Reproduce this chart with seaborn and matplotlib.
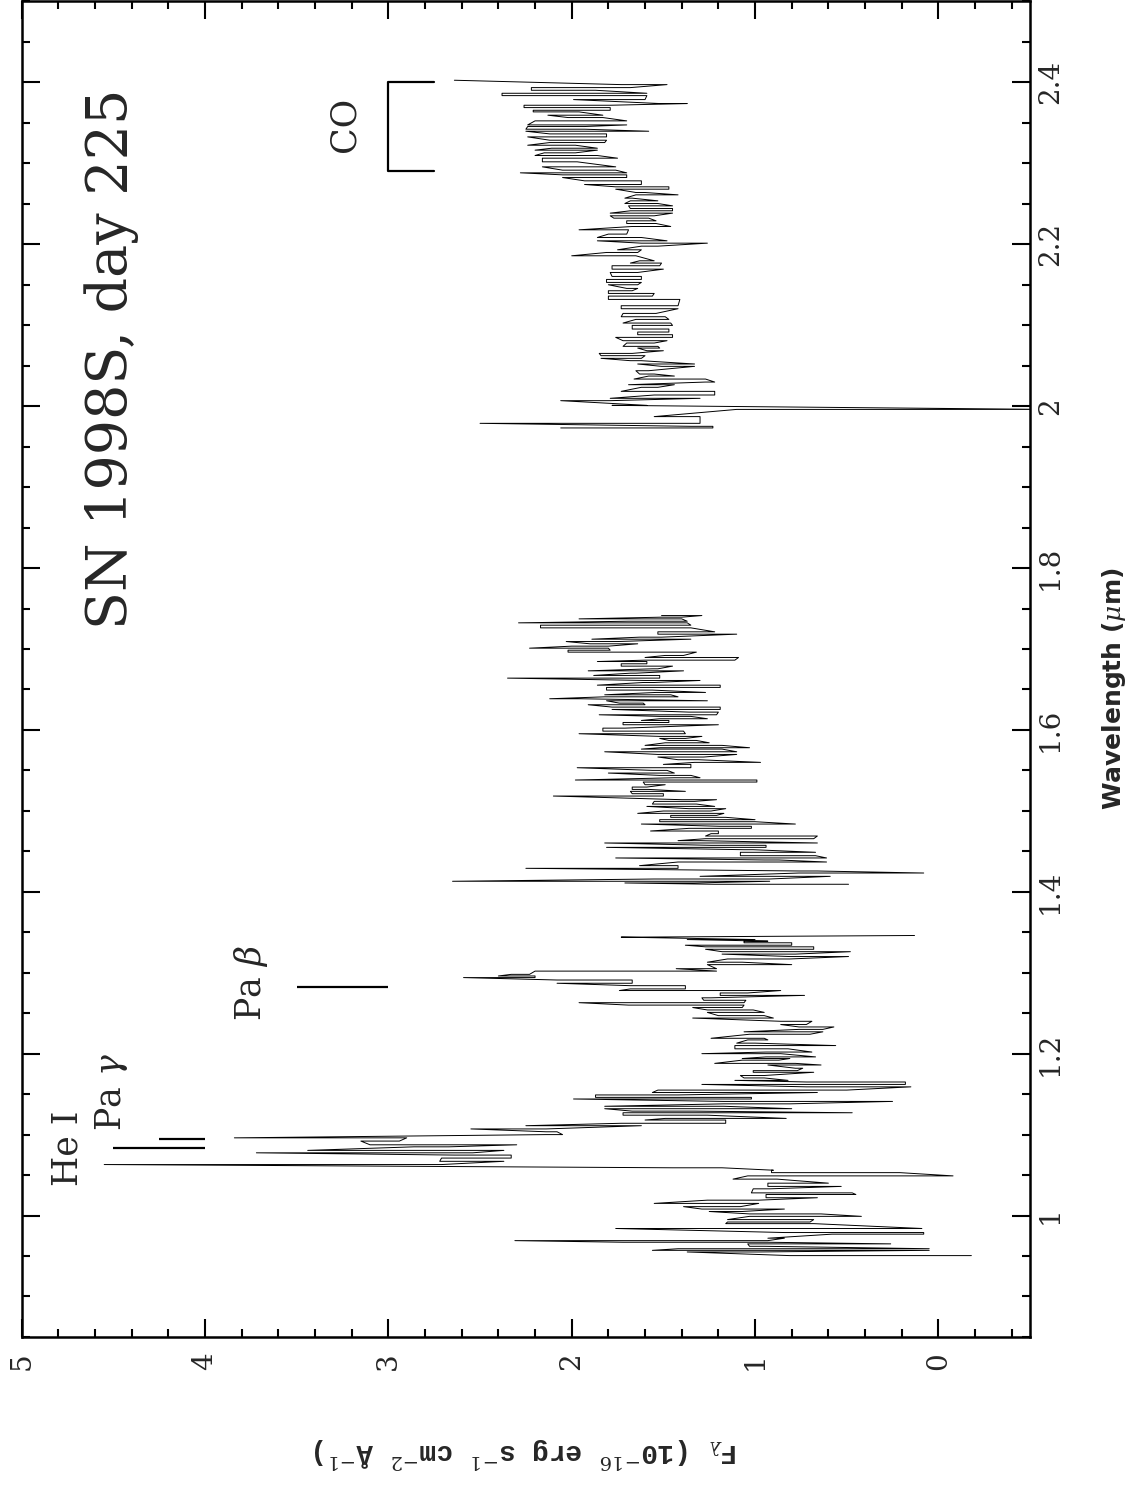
import numpy as np
import pandas as pd
import matplotlib
matplotlib.use("Agg")
import matplotlib.pyplot as plt
import seaborn as sns
from matplotlib.ticker import MultipleLocator, FuncFormatter

# ---------------- data ----------------
# Each row: wavelength (micron) and the two flux extremes of the zig-zag, in drawing order
wave1 = [0.9505, 0.955, 0.957, 0.959, 0.962, 0.965, 0.967, 0.969, 0.972, 0.977,
         0.979, 0.984, 0.990, 0.992, 0.995, 0.999, 1.002, 1.005, 1.008, 1.011,
         1.015, 1.019, 1.022, 1.026, 1.028, 1.033, 1.036, 1.040, 1.045, 1.049,
         1.053, 1.056, 1.059, 1.063, 1.067, 1.071, 1.0747, 1.0775, 1.0805, 1.0849,
         1.0874, 1.092, 1.096, 1.100, 1.1035, 1.107, 1.111, 1.114, 1.118, 1.120,
         1.124, 1.127, 1.129, 1.132, 1.135, 1.138, 1.141, 1.144, 1.146, 1.149,
         1.152, 1.155, 1.159, 1.162, 1.165, 1.167, 1.170, 1.173, 1.177, 1.179,
         1.182, 1.186, 1.188, 1.192, 1.194, 1.196, 1.200, 1.202, 1.206, 1.210,
         1.213, 1.217, 1.219, 1.224, 1.227, 1.230, 1.233, 1.236, 1.240, 1.244,
         1.247, 1.251, 1.254, 1.257, 1.260, 1.263, 1.266, 1.269, 1.272, 1.275,
         1.278, 1.280, 1.284, 1.287, 1.291, 1.294, 1.296, 1.298, 1.302, 1.305,
         1.310, 1.313, 1.317, 1.320, 1.323, 1.326, 1.329, 1.332, 1.334, 1.337,
         1.339, 1.341, 1.344, 1.346]
flux1_a = [-0.18, 1.37, 0.05, 1.42, 0.95, 1.04, 0.93, 2.31, 0.84, 0.58,
           0.08, 1.76, 0.68, 1.15, 0.68, 1.03, 0.64, 1.25, 0.84, 1.39,
           0.98, 1.26, 0.66, 0.94, 0.47, 1.01, 0.53, 0.93, 0.88, 1.04,
           0.21, 0.91, 1.18, 4.55, 2.37, 2.71, 2.33, 3.72, 2.37, 2.86,
           2.30, 3.15, 2.90, 2.14, 2.08, 2.55, 1.62, 1.73, 1.16, 1.49,
           1.26, 1.72, 1.33, 1.82, 1.17, 1.17, 0.25, 1.99, 1.02, 1.87,
           0.66, 1.53, 0.15, 1.29, 0.18, 1.11, 0.95, 1.08, 0.68, 1.01,
           0.74, 0.93, 0.78, 1.07, 0.81, 0.94, 0.86, 0.94, 0.82, 1.11,
           1.00, 1.04, 0.95, 1.03, 0.63, 0.76, 0.57, 0.86, 0.69, 1.34,
           0.95, 1.26, 1.01, 1.34, 1.06, 1.96, 1.05, 1.29, 0.73, 1.19,
           0.86, 1.68, 1.38, 2.08, 1.67, 2.59, 2.20, 2.33, 2.20, 1.43,
           1.26, 1.07, 1.15, 0.49, 1.18, 0.48, 1.27, 0.68, 1.38, 0.80,
           1.06, 1.37, 1.73, 0.13]
flux1_b = [0.81, 0.98, 1.56, 0.05, 1.03, 0.26, 1.72, 0.93, 0.93, 0.08,
           0.84, 0.09, 1.16, 0.70, 1.15, 0.42, 1.03, 1.07, 1.29, 1.08,
           1.55, 0.98, 0.94, 0.45, 1.02, 0.92, 0.93, 0.60, 1.12, -0.08,
           0.91, 0.90, 1.45, 2.71, 2.72, 2.33, 2.64, 2.54, 3.44, 2.67,
           3.10, 2.94, 3.84, 2.05, 2.14, 2.14, 2.25, 1.16, 1.60, 0.83,
           1.72, 0.47, 1.67, 0.80, 1.82, 0.81, 1.17, 1.02, 1.87, 1.42,
           1.56, 0.50, 0.72, 0.18, 0.72, 0.82, 1.06, 0.95, 1.01, 0.77,
           0.78, 0.64, 1.22, 0.87, 1.07, 0.67, 1.29, 0.69, 1.11, 0.56,
           1.10, 0.93, 1.24, 0.70, 1.06, 0.63, 0.76, 0.72, 0.86, 0.90,
           1.20, 0.95, 1.26, 1.07, 1.69, 1.06, 1.28, 1.24, 1.19, 1.04,
           1.74, 1.38, 1.68, 1.67, 2.08, 2.20, 2.40, 2.23, 1.21, 1.21,
           0.80, 1.26, 0.81, 0.81, 0.78, 1.18, 0.68, 1.27, 0.80, 1.06,
           0.93, 1.00, 1.65, 0.13]

wave2 = [1.4093, 1.4109, 1.4130, 1.4158, 1.4191, 1.4232, 1.4257, 1.4290, 1.4323, 1.4368,
         1.4393, 1.4418, 1.4446, 1.4488, 1.4520, 1.4549, 1.4574, 1.4603, 1.4632, 1.4656,
         1.4689, 1.4718, 1.4751, 1.4784, 1.4809, 1.4837, 1.4866, 1.4891, 1.4920, 1.4944,
         1.4969, 1.4998, 1.5027, 1.5055, 1.5084, 1.5117, 1.5138, 1.5183, 1.5212, 1.5241,
         1.5265, 1.5294, 1.5323, 1.5356, 1.5381, 1.5409, 1.5438, 1.5467, 1.5500, 1.5533,
         1.5574, 1.5599, 1.5632, 1.5665, 1.5697, 1.5730, 1.5763, 1.5780, 1.5809, 1.5841,
         1.5870, 1.5895, 1.5920, 1.5953, 1.5985, 1.6022, 1.6064, 1.6092, 1.6117, 1.6138,
         1.6167, 1.6187, 1.6220, 1.6253, 1.6282, 1.6311, 1.6331, 1.6360, 1.6385, 1.6409,
         1.6434, 1.6463, 1.6492, 1.6525, 1.6553, 1.6586, 1.6611, 1.6640, 1.6673, 1.6701,
         1.6730, 1.6755, 1.6788, 1.6817, 1.6845, 1.6862, 1.6895, 1.6920, 1.6961, 1.6985,
         1.7010, 1.7035, 1.7064, 1.7092, 1.7121, 1.7146, 1.7183, 1.7212, 1.7261, 1.7294,
         1.7323, 1.7343, 1.7372, 1.7393, 1.7413]
flux2_a = [0.49, 1.71, 0.92, 1.55, 0.59, 0.76, 0.66, 2.25, 1.42, 1.42,
           0.87, 1.76, 0.67, 1.08, 1.01, 1.81, 0.94, 1.82, 1.30, 1.27,
           0.66, 1.24, 1.20, 1.36, 1.02, 1.62, 1.00, 1.52, 1.16, 1.46,
           1.17, 1.50, 1.16, 1.59, 1.32, 1.55, 1.21, 2.10, 1.50, 1.68,
           1.58, 1.67, 1.49, 1.61, 0.99, 1.44, 1.35, 1.80, 1.48, 1.97,
           1.35, 1.33, 1.31, 1.53, 1.10, 1.82, 1.18, 1.52, 1.18, 1.49,
           1.32, 1.52, 1.29, 1.96, 1.39, 1.83, 1.20, 1.72, 1.47, 1.52,
           1.35, 1.85, 1.20, 1.78, 1.19, 1.91, 1.61, 1.81, 1.95, 1.82,
           1.46, 1.54, 1.56, 1.81, 1.19, 1.61, 1.30, 2.35, 1.52, 1.68,
           1.39, 1.56, 1.45, 1.73, 1.59, 1.60, 1.09, 1.49, 1.32, 2.02,
           1.80, 2.00, 1.64, 2.03, 1.35, 1.63, 1.10, 1.53, 1.35, 2.17,
           1.37, 1.69, 1.40, 1.51, 1.29]
flux2_b = [1.22, 1.33, 2.65, 0.92, 1.30, 0.08, 0.76, 1.42, 1.63, 0.61,
           0.95, 0.61, 1.08, 0.67, 1.06, 0.94, 1.24, 0.66, 1.42, 0.68,
           1.27, 1.20, 1.57, 1.02, 1.19, 0.78, 1.52, 1.00, 1.46, 1.21,
           1.64, 1.24, 1.36, 1.22, 1.56, 1.33, 1.40, 1.50, 1.67, 1.38,
           1.67, 1.59, 1.60, 0.99, 1.98, 1.30, 1.52, 1.44, 1.56, 1.35,
           1.50, 0.97, 1.42, 1.28, 1.53, 1.10, 1.62, 1.03, 1.60, 1.25,
           1.47, 1.38, 1.52, 1.38, 1.83, 1.71, 1.72, 1.47, 1.62, 1.26,
           1.52, 1.21, 1.36, 1.19, 1.78, 1.60, 1.74, 1.26, 2.12, 1.42,
           1.82, 1.27, 1.81, 1.19, 1.86, 1.55, 1.60, 1.52, 1.88, 1.65,
           1.91, 1.53, 1.73, 1.59, 1.86, 1.11, 1.60, 1.39, 2.02, 1.79,
           2.23, 1.80, 1.90, 1.75, 1.89, 1.51, 1.53, 1.22, 2.17, 1.35,
           2.29, 1.37, 1.96, 1.40, 1.51]

wave3 = [1.9731, 1.9751, 1.9788, 1.9871, 1.9960, 2.0010, 2.0068, 2.0097, 2.0138, 2.0183,
         2.0233, 2.0265, 2.0298, 2.0335, 2.0372, 2.0397, 2.0438, 2.0492, 2.0521, 2.0562,
         2.0591, 2.0624, 2.0652, 2.0685, 2.0718, 2.0739, 2.0780, 2.0809, 2.0850, 2.0883,
         2.0916, 2.0953, 2.0998, 2.1027, 2.1072, 2.1105, 2.1146, 2.1204, 2.1241, 2.1319,
         2.1360, 2.1393, 2.1426, 2.1455, 2.1500, 2.1529, 2.1566, 2.1603, 2.1652, 2.1693,
         2.1735, 2.1768, 2.1796, 2.1858, 2.1899, 2.1932, 2.1977, 2.2014, 2.2043, 2.2084,
         2.2126, 2.2179, 2.2220, 2.2257, 2.2290, 2.2323, 2.2352, 2.2385, 2.2414, 2.2442,
         2.2475, 2.2504, 2.2537, 2.2570, 2.2611, 2.2640, 2.2681, 2.2710, 2.2739, 2.2784,
         2.2825, 2.2858, 2.2883, 2.2916, 2.2957, 2.3019, 2.3064, 2.3097, 2.3130, 2.3163,
         2.3187, 2.3224, 2.3257, 2.3286, 2.3327, 2.3364, 2.3397, 2.3422, 2.3455, 2.3475,
         2.3525, 2.3566, 2.3595, 2.3636, 2.3656, 2.3689, 2.3718, 2.3739, 2.3788, 2.3837,
         2.3866, 2.3903, 2.3936, 2.3973, 2.4027]
flux3_a = [2.06, 1.23, 2.50, 1.30, 1.10, 1.78, 2.06, 1.30, 1.55, 1.22,
           1.62, 1.44, 1.27, 1.27, 1.58, 1.55, 1.65, 1.33, 1.64, 1.62,
           1.84, 1.60, 1.85, 1.50, 1.64, 1.53, 1.70, 1.48, 1.76, 1.45,
           1.64, 1.47, 1.67, 1.46, 1.65, 1.49, 1.72, 1.42, 1.73, 1.41,
           1.80, 1.55, 1.80, 1.64, 1.80, 1.62, 1.81, 1.62, 1.79, 1.50,
           1.78, 1.51, 1.63, 1.65, 1.81, 1.62, 1.62, 1.26, 1.86, 1.62,
           1.80, 1.69, 1.67, 1.54, 1.70, 1.58, 1.79, 1.45, 1.68, 1.45,
           1.69, 1.53, 1.68, 1.67, 1.65, 1.60, 1.76, 1.47, 1.93, 1.62,
           2.05, 1.70, 2.28, 1.76, 2.16, 1.97, 2.16, 1.86, 2.15, 1.86,
           2.11, 1.98, 2.12, 1.81, 2.24, 1.81, 2.25, 1.93, 2.24, 1.70,
           2.20, 1.83, 2.13, 1.96, 2.21, 1.79, 2.26, 1.37, 1.99, 1.59,
           2.38, 1.87, 2.22, 1.48, 2.64]
flux3_b = [1.23, 1.35, 1.30, 1.55, -0.60, 1.59, 1.79, 1.79, 1.22, 1.73,
           1.53, 1.69, 1.22, 1.66, 1.44, 1.63, 1.58, 1.51, 1.33, 1.68,
           1.62, 1.84, 1.67, 1.59, 1.52, 1.72, 1.55, 1.72, 1.45, 1.64,
           1.47, 1.67, 1.45, 1.72, 1.47, 1.73, 1.54, 1.73, 1.42, 1.80,
           1.56, 1.80, 1.67, 1.70, 1.64, 1.81, 1.62, 1.78, 1.64, 1.78,
           1.52, 1.68, 1.55, 2.00, 1.64, 1.75, 1.53, 1.62, 1.48, 1.86,
           1.70, 1.96, 1.46, 1.70, 1.54, 1.77, 1.55, 1.79, 1.45, 1.68,
           1.45, 1.71, 1.53, 1.71, 1.42, 1.65, 1.47, 1.76, 1.62, 1.93,
           1.70, 2.05, 1.70, 2.05, 1.76, 2.16, 1.75, 2.20, 1.98, 2.20,
           1.86, 2.24, 1.82, 2.12, 1.81, 2.12, 1.58, 2.25, 1.93, 2.24,
           1.70, 2.02, 1.83, 2.21, 1.79, 2.26, 1.79, 1.52, 1.60, 2.38,
           1.59, 2.22, 1.68, 1.73, 2.64]

# line identification marks
line_waves = [1.083, 1.094, 1.282]
line_flux_lo = [4.0, 4.0, 3.0]
line_flux_hi = [4.5, 4.25, 3.5]
co_waves = [2.29, 2.40]
co_flux = [3.0, 2.75]

title_text = "SN 1998S, day 225"
xlabel_text = r"F$_\lambda$ (10$^{-16}$ erg s$^{-1}$ cm$^{-2}$ Å$^{-1}$)"
ylabel_text = r"Wavelength ($\mu$m)"

# ---------------- build long table ----------------
rows = []
for seg, (w, fa, fb) in enumerate([(wave1, flux1_a, flux1_b),
                                   (wave2, flux2_a, flux2_b),
                                   (wave3, flux3_a, flux3_b)]):
    for wi, a, b in zip(w, fa, fb):
        rows.append((seg, wi, a))
        rows.append((seg, wi, b))
df = pd.DataFrame(rows, columns=["seg", "wave", "flux"])

# ---------------- style ----------------
sns.set_theme(style="ticks")
plt.rcParams.update({
    "font.family": ["DejaVu Serif"],
    "mathtext.fontset": "dejavuserif",
    "axes.linewidth": 1.8,
    "axes.edgecolor": "black",
})

fig = plt.figure(figsize=(11.28, 14.85), dpi=100)
ax = fig.add_axes([0.01924, 0.0997, 0.89392, 0.8993])

sns.lineplot(data=df, x="flux", y="wave", units="seg", estimator=None,
             sort=False, orient="y", color="black", linewidth=0.7,
             ax=ax, legend=False)

# identification marks
for w, lo, hi in zip(line_waves, line_flux_lo, line_flux_hi):
    ax.plot([lo, hi], [w, w], color="black", lw=1.6, solid_capstyle="butt")
ax.plot([co_flux[1], co_flux[0], co_flux[0], co_flux[1]],
        [co_waves[1], co_waves[1], co_waves[0], co_waves[0]],
        color="black", lw=1.6)

# texts (rotated like the landscape page)
ax.text(4.51, 2.059, title_text, rotation=90, ha="center", va="center",
        fontsize=40, family="DejaVu Serif")
ax.text(4.75, 1.083, "He I", rotation=90, ha="center", va="center", fontsize=25)
ax.text(4.51, 1.152, "Pa $\\gamma$", rotation=90, ha="center", va="center", fontsize=25)
ax.text(3.75, 1.287, "Pa $\\beta$", rotation=90, ha="center", va="center", fontsize=25)
ax.text(3.24, 2.348, "CO", rotation=90, ha="center", va="center", fontsize=25)

# axes
ax.set_xlim(5, -0.5)
ax.set_ylim(0.85, 2.5)
ax.xaxis.set_major_locator(MultipleLocator(1))
ax.xaxis.set_minor_locator(MultipleLocator(0.2))
ax.yaxis.set_major_locator(MultipleLocator(0.2))
ax.yaxis.set_minor_locator(MultipleLocator(0.05))
fmt = FuncFormatter(lambda v, p: f"{round(v, 3):g}")
ax.xaxis.set_major_formatter(fmt)
ax.yaxis.set_major_formatter(fmt)

ax.tick_params(axis="both", which="both", direction="in", color="black", width=1.5)
ax.tick_params(axis="both", which="major", length=13)
ax.tick_params(axis="both", which="minor", length=6)
ax.tick_params(axis="x", which="both", bottom=True, top=True,
               labelbottom=True, labeltop=False)
ax.tick_params(axis="y", which="both", left=True, right=True,
               labelleft=False, labelright=True)
ax.tick_params(axis="x", which="major", labelrotation=90, pad=11, labelsize=20)
ax.tick_params(axis="y", which="major", labelrotation=90, pad=5, labelsize=20)
for lab in ax.get_yticklabels():
    lab.set_verticalalignment("center")

ax.set_xlabel(xlabel_text, rotation=180, fontsize=20, family="Liberation Mono",
              fontweight="bold", ha="center", va="center")
ax.xaxis.set_label_coords(0.5, -0.0868)
ax.set_ylabel(ylabel_text, rotation=90, fontsize=18, family="DejaVu Sans",
              fontweight="bold", ha="center", va="center")
ax.yaxis.set_label_position("right")
ax.yaxis.set_label_coords(1.0694, 0.485)

for s in ax.spines.values():
    s.set_visible(True)
    s.set_color("black")
    s.set_linewidth(1.8)

fig.savefig("out.png", dpi=100, facecolor="white")
